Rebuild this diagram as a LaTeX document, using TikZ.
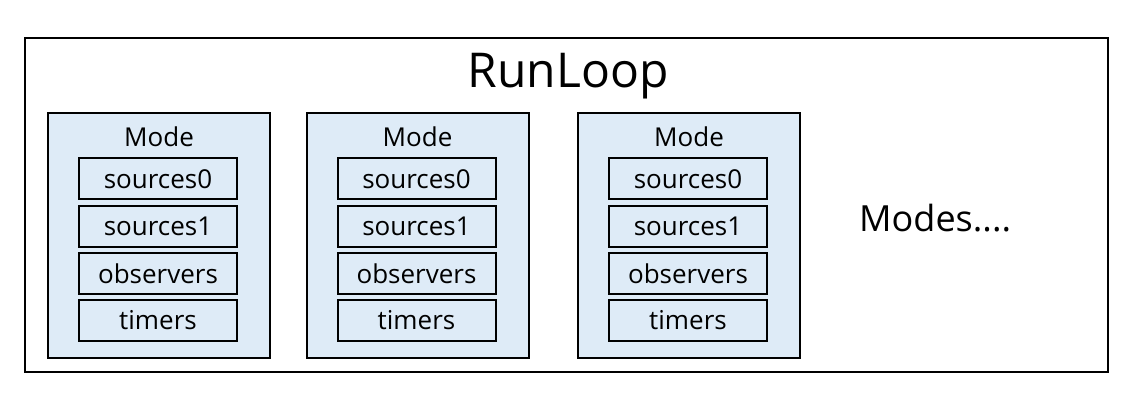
\documentclass[tikz,border=0pt]{standalone}
\usepackage{fontspec}
\setmainfont{Open Sans}
\definecolor{modefill}{HTML}{DEEBF7}
\begin{document}
\begin{tikzpicture}[x=1pt,y=-1pt,
  outerbox/.style={draw=black,line width=2pt,fill=white},
  modebox/.style={draw=black,line width=2pt,fill=modefill},
  itembox/.style={draw=black,line width=2pt,fill=modefill,minimum width=158pt,minimum height=41pt,inner sep=0pt,font=\fontsize{26}{30}\selectfont},
  modelabel/.style={inner sep=0pt,font=\fontsize{26}{30}\selectfont},
  bigtitle/.style={inner sep=0pt,font=\fontsize{48}{56}\selectfont},
  moretext/.style={inner sep=0pt,font=\fontsize{36}{42}\selectfont}]
\useasboundingbox (0,0) rectangle (1148,414);
\fill[white] (0,0) rectangle (1148,414);
\node[outerbox,minimum width=1083pt,minimum height=334pt,inner sep=0pt] (runloop) at (566.5,205) {};
\node[bigtitle,anchor=base] (title) at (568,88) {RunLoop};
\foreach \i/\cx in {1/159,2/417.5,3/689} {
  \node[modebox,minimum width=222pt,minimum height=245pt,inner sep=0pt] (mode\i) at (\cx,235.5) {};
  \node[modelabel,anchor=base] (modelab\i) at (\cx,147) {Mode};
  \node[itembox] (src0\i) at (\cx-1,179) {sources0};
  \node[itembox] (src1\i) at (\cx-1,226.5) {sources1};
  \node[itembox] (obs\i) at (\cx-1,273.5) {observers};
  \node[itembox] (tim\i) at (\cx-1,320.5) {timers};
}
\node[moretext,anchor=base west] (modes) at (859,232) {Modes....};
\end{tikzpicture}
\end{document}
